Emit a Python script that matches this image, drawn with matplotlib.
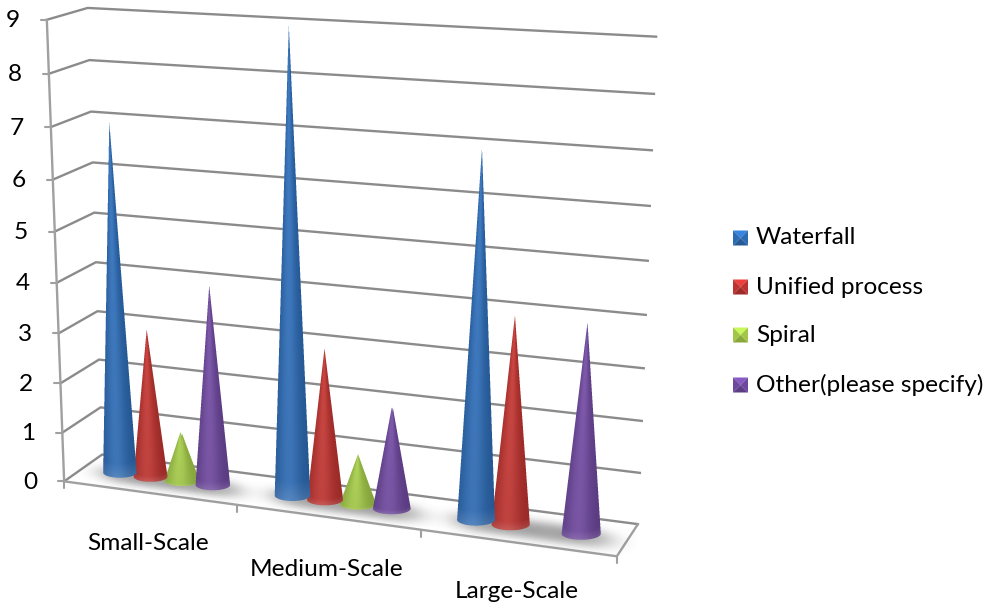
import numpy as np
import matplotlib
matplotlib.use("Agg")
import matplotlib.pyplot as plt
from matplotlib.colors import to_rgb
from matplotlib.patches import Polygon

plt.rcParams["font.family"] = ["Lato", "DejaVu Sans"]

# Survey counts per project size
categories = ["Small-Scale", "Medium-Scale", "Large-Scale"]
series_names = ["Waterfall", "Unified process", "Spiral", "Other(please specify)"]
waterfall = [7, 9, 7]
unified_process = [3, 3, 4]
spiral = [1, 1, 0]
other = [4, 2, 4]
value_ticks = list(range(10))

series_values = [waterfall, unified_process, spiral, other]
series_colors = ["#2f70bd", "#c73632", "#aad24c", "#744ca6"]
series_layer = [3.0, 2.0, 1.0, 2.0]

# Reference points of the 3D box: (category, depth, value) -> (px, py)
box_points = [
    (0, 0, 0, 64, 481), (0, 0, 3, 60, 333), (0, 0, 6, 53, 179), (0, 0, 9, 46, 20),
    (0, 1, 0, 102, 455), (0, 1, 3, 97, 312), (0, 1, 6, 92.5, 162), (0, 1, 9, 88, 8),
    (3, 1, 0, 638, 523), (3, 1, 3, 644, 368), (3, 1, 6, 650, 206), (3, 1, 9, 656, 37),
    (1, 0, 0, 237, 505), (2, 0, 0, 420, 530), (3, 0, 0, 617, 557),
]


def fit_projection(points):
    rows, rhs = [], []
    for u, v, h, x, y in points:
        rows.append([u, v, h, 1, 0, 0, 0, 0, -x * u, -x * v, -x * h])
        rows.append([0, 0, 0, 0, u, v, h, 1, -y * u, -y * v, -y * h])
        rhs += [x, y]
    sol = np.linalg.lstsq(np.array(rows, float), np.array(rhs, float), rcond=None)[0]
    return np.append(sol, 1.0).reshape(3, 4)


P = fit_projection(box_points)


def project(u, v, h):
    w = P @ np.array([u, v, h, 1.0])
    return w[0] / w[2], w[1] / w[2]


fig = plt.figure(figsize=(9.88, 6.06), dpi=100)
ax = fig.add_axes([0, 0, 1, 1])
ax.set_xlim(0, 988)
ax.set_ylim(606, 0)
ax.axis("off")

GRID = "#8b8b8b"
AXIS = "#a0a0a0"
FONT = 17.6
n_cat = len(categories)


def seg(a, b, color=GRID, lw=1.7, z=1):
    ax.plot([a[0], b[0]], [a[1], b[1]], color=color, lw=lw, zorder=z,
            solid_capstyle="round", solid_joinstyle="round")


# Walls: gridlines run along the left wall and then the back wall
for h in value_ticks:
    pts = [project(0, 0, h), project(0, 1, h), project(n_cat, 1, h)]
    ax.plot(*zip(*pts), color=GRID, lw=1.7, zorder=1, solid_joinstyle="round")
    fx, fy = pts[0]
    seg((fx - 6, fy), (fx, fy), AXIS, 1.5)
    ax.text(fx - 27, fy + 1, str(h), ha="right", va="center", fontsize=FONT, color="black")

# Value axis, floor edges and category ticks
seg(project(0, 0, 0), project(0, 0, 9), AXIS, 1.7)
seg(project(0, 0, 0), project(n_cat, 0, 0), AXIS, 1.7)
seg(project(n_cat, 0, 0), project(n_cat, 1, 0), AXIS, 1.7)
for c in range(n_cat + 1):
    x, y = project(c, 0, 0)
    seg((x, y), (x, y + 7), AXIS, 1.5)

label_pos = [(148, 543), (327, 569), (517, 592)]
for name, (x, y) in zip(categories, label_pos):
    ax.text(x, y, name, ha="center", va="center", fontsize=FONT, color="black")

SPACING = 0.182
GROUP_CENTRE = 0.492
SS = 4  # supersampling per pixel for the cone images


def put_image(rgba, x0, y0, z):
    h, w = rgba.shape[:2]
    ax.imshow(rgba, extent=(x0, x0 + w, y0 + h, y0), origin="upper",
              interpolation="nearest", zorder=z, aspect="auto")
    ax.set_xlim(0, 988)
    ax.set_ylim(606, 0)


def draw_shadow(cx, cy, a, b):
    x0, x1 = int(cx - 2.6 * a), int(cx + 2.8 * a)
    y0, y1 = int(cy - 2.4 * b), int(cy + 3.4 * b)
    xs, ys = np.meshgrid(np.arange(x0, x1) + 0.5, np.arange(y0, y1) + 0.5)
    dx, dy = xs - (cx + 3), ys - (cy + 3)
    tilt = 0.13
    dy = dy - tilt * dx
    d2 = (dx / (1.6 * a)) ** 2 + (dy / (1.7 * b)) ** 2
    alpha = 0.5 * np.exp(-d2 ** 1.3)
    rgba = np.zeros(xs.shape + (4,))
    rgba[..., :3] = 0.45
    rgba[..., 3] = alpha
    put_image(rgba, x0, y0, 2)


def draw_cone(u, value, color, z):
    cx, cy = project(u, 0.5, 0)
    xl, _ = project(u - SPACING / 2, 0.5, 0)
    xr, _ = project(u + SPACING / 2, 0.5, 0)
    a = 0.55 * (xr - xl)
    b = a * 0.31
    draw_shadow(cx, cy, a, b)
    if value <= 0:
        return
    tipx, tipy = project(u, 0.5, value)
    height = cy - tipy
    x0, x1 = int(min(cx - a, tipx)) - 2, int(max(cx + a, tipx)) + 3
    y0, y1 = int(tipy) - 1, int(cy + b) + 3
    xs = (np.arange((x1 - x0) * SS) + 0.5) / SS + x0
    ys = (np.arange((y1 - y0) * SS) + 0.5) / SS + y0
    X, Y = np.meshgrid(xs, ys)
    px, py = X - tipx, Y - tipy
    # Solve for the surface parameters: s runs tip to base, cos_t across the width
    s = np.maximum(py, 1e-3) / height
    for _ in range(5):
        cos_t = (px / np.maximum(s, 1e-4) - (cx - tipx)) / a
        sin_t = np.sqrt(np.clip(1 - cos_t ** 2, 0, 1))
        s = np.maximum(py, 1e-3) / (height + b * sin_t)
    inside = (py > 0) & (np.abs(cos_t) <= 1) & (s <= 1)

    base = np.array(to_rgb(color))
    light = np.exp(-((cos_t + 0.2) / 0.7) ** 2)
    tone = (0.82 + 0.18 * light)
    tone = tone * (0.93 + 0.07 * (1 - np.clip(s, 0, 1)))
    rim = np.clip((s - 0.96) / 0.04, 0, 1) * 0.12
    rgb = base[None, None, :] * tone[..., None]
    rgb = rgb + (1 - rgb) * (0.08 * light + rim)[..., None]
    rgb = np.clip(rgb, 0, 1)

    # Average the samples down to pixels, weighted by coverage
    def down(arr):
        return arr.reshape(y1 - y0, SS, x1 - x0, SS).mean(axis=(1, 3))

    cov = down(inside.astype(float))
    out = np.zeros((y1 - y0, x1 - x0, 4))
    for k in range(3):
        out[..., k] = down(rgb[..., k] * inside) / np.maximum(cov, 1e-6)
    out[..., 3] = cov
    put_image(out, x0, y0, z)


# Cones, one per category and series
for c in range(n_cat):
    for s in range(len(series_names)):
        u = c + GROUP_CENTRE + (s - 1.5) * SPACING
        draw_cone(u, series_values[s][c], series_colors[s], 3 + c * 5 + series_layer[s])

# Legend with bevelled swatches
legend_y = [238, 287, 335, 385]
for name, color, y in zip(series_names, series_colors, legend_y):
    x0, x1, r = 733, 748, 7.5
    rgb = np.array(to_rgb(color))
    m = ((x0 + x1) / 2, y)
    tl, tr, br, bl = (x0, y - r), (x1, y - r), (x1, y + r), (x0, y + r)
    for tri, f in (((tl, tr, m), 1.18), ((bl, br, m), 0.8), ((tl, bl, m), 0.95), ((tr, br, m), 0.95)):
        ax.add_patch(Polygon(tri, fc=np.clip(rgb * f, 0, 1), ec="none", zorder=30))
    ax.text(756, y, name, ha="left", va="center", fontsize=FONT, color="black")

fig.savefig("out.png", dpi=100)
